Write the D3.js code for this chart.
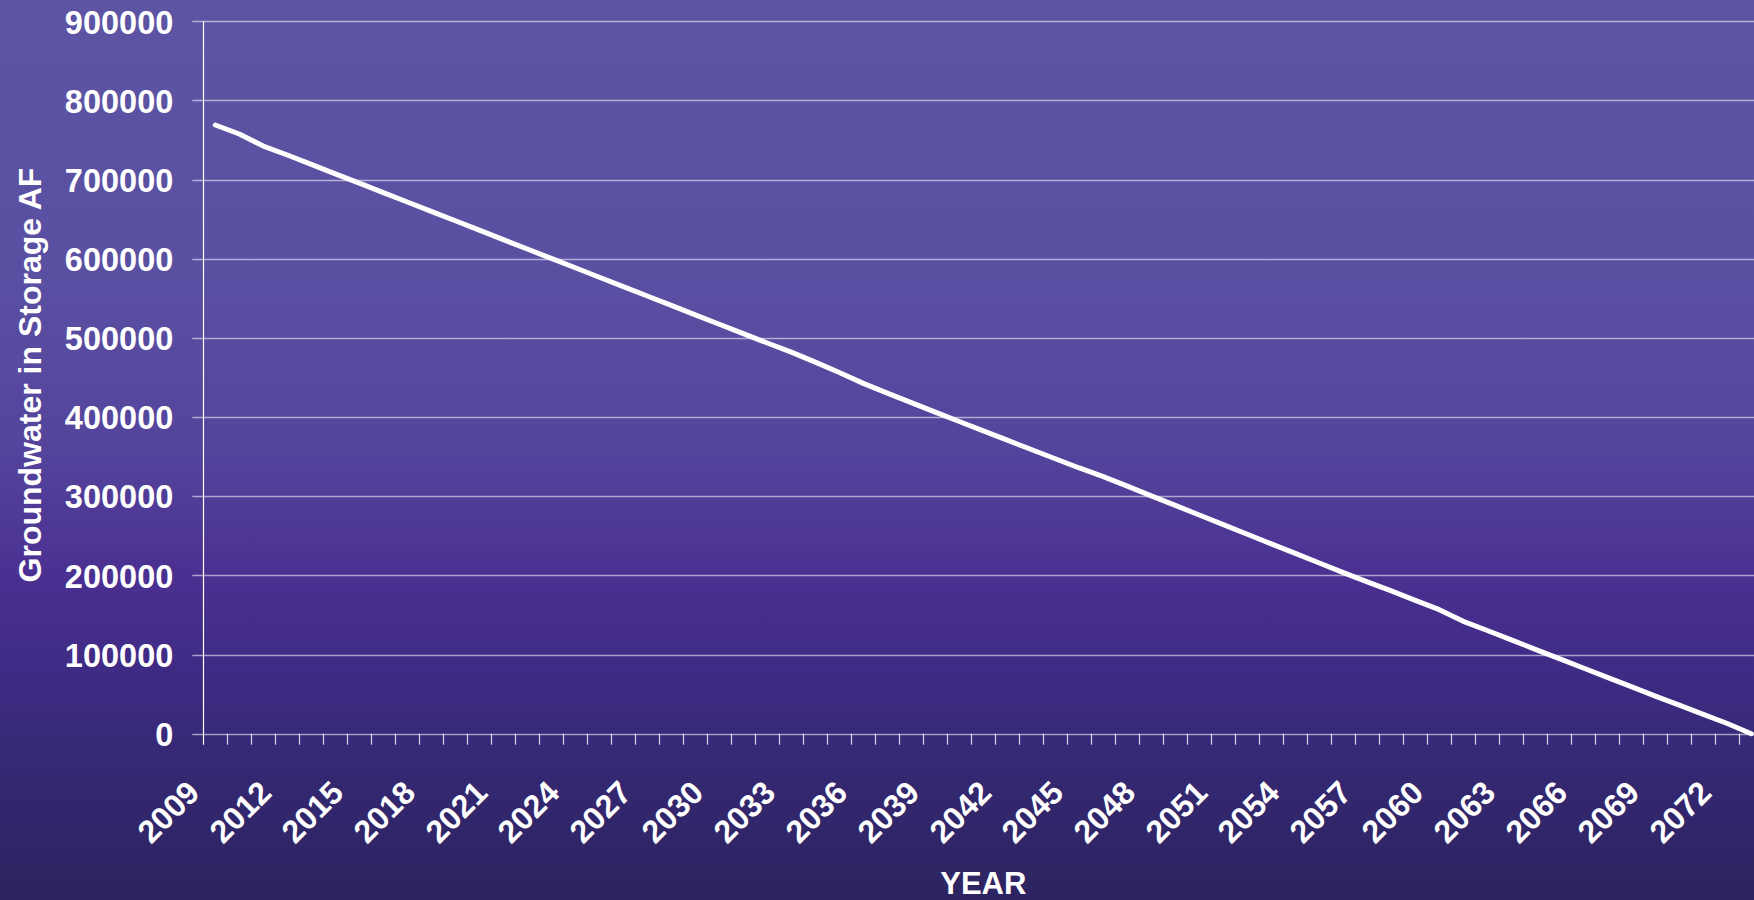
<!DOCTYPE html>
<html>
<head>
<meta charset="utf-8">
<script src="https://cdn.jsdelivr.net/npm/d3@7"></script>
<style>
	html, body { margin: 0; padding: 0; background: #2c2460; }
	svg { display: block; }
	text { font-family: "Liberation Sans", Arial, sans-serif; font-weight: bold; fill: #ffffff; }
</style>
</head>
<body>
<svg id="chart" width="1754" height="900"></svg>
<script>
	// groundwater left in storage, acre-feet, one value per year
	var years = d3.range(2009, 2074);
	var storage = [
		769000, 757600, 742400, 731100, 719200, 707300, 695500, 683600, 671700, 659800,
		648000, 636100, 624200, 612300, 600500, 588600, 576700, 564800, 553000, 541100,
		529200, 517300, 505500, 493600, 482000, 469500, 456300, 442600, 430300, 418300,
		406200, 394400, 382500, 370800, 359000, 347400, 335700, 324800, 312700, 300500,
		288400, 276300, 264200, 252000, 239900, 227800, 215600, 203500, 191800, 180400,
		168500, 156700, 142000, 130400, 118500, 106600, 94900, 83000, 71100, 59400,
		47500, 36000, 24500, 12900, 0
	];
	var yTicks = [0, 100000, 200000, 300000, 400000, 500000, 600000, 700000, 800000, 900000];
	var yLabel = "Groundwater in Storage AF";
	var xLabel = "YEAR";

	var svg = d3.select("#chart");
	var width = 1754, height = 900;
	var plot = { left: 203.3, right: 1763.3, top: 21.3, bottom: 733.7 };

	// background
	var defs = svg.append("defs");
	var grad = defs.append("linearGradient")
		.attr("id", "bg")
		.attr("x1", 0).attr("y1", 0)
		.attr("x2", 0).attr("y2", 1);
	[
		[0, "#5d54a4"], [0.3, "#5a50a2"], [0.5, "#54449c"], [0.64, "#4a3091"],
		[0.75, "#3e2b84"], [0.88, "#33276f"], [1, "#2c2460"]
	].forEach(function(s) {
		grad.append("stop").attr("offset", s[0]).attr("stop-color", s[1]);
	});
	svg.append("rect")
		.attr("width", width).attr("height", height)
		.attr("fill", "url(#bg)");

	var x = d3.scaleBand()
		.domain(years)
		.range([plot.left, plot.right])
		.padding(0);
	var y = d3.scaleLinear()
		.domain([0, 900000])
		.range([plot.bottom, plot.top]);

	// gridlines
	svg.append("g")
		.selectAll("line")
		.data(yTicks)
		.join("line")
		.attr("x1", plot.left - 11)
		.attr("x2", plot.right)
		.attr("y1", function(d) { return Math.round(y(d)) + 0.5; })
		.attr("y2", function(d) { return Math.round(y(d)) + 0.5; })
		.attr("stroke", "rgba(255,255,255,0.55)")
		.attr("stroke-width", 1.3);

	// y axis
	var yAxis = svg.append("g")
		.attr("transform", "translate(" + plot.left + ",0)")
		.call(d3.axisLeft(y).tickValues(yTicks).tickFormat(d3.format("d")).tickSize(0).tickPadding(30));
	yAxis.select(".domain").remove();
	yAxis.selectAll("text")
		.attr("font-size", 32.5)
		.attr("fill", "#ffffff")
		.attr("font-family", "Liberation Sans, Arial, sans-serif")
		.attr("font-weight", "bold")
		.attr("dy", "0.36em");
	svg.append("line")
		.attr("x1", Math.round(plot.left) + 0.5).attr("x2", Math.round(plot.left) + 0.5)
		.attr("y1", plot.top).attr("y2", plot.bottom + 11)
		.attr("stroke", "#ffffff")
		.attr("stroke-width", 1.2);

	// x axis: tick marks between categories, a label every third year
	var bounds = years.map(function(d) { return x(d); }).concat([plot.right]);
	svg.append("g")
		.selectAll("line")
		.data(bounds.slice(1))
		.join("line")
		.attr("x1", function(d) { return Math.round(d) + 0.5; })
		.attr("x2", function(d) { return Math.round(d) + 0.5; })
		.attr("y1", plot.bottom)
		.attr("y2", plot.bottom + 11)
		.attr("stroke", "rgba(255,255,255,0.8)")
		.attr("stroke-width", 1.2);

	var labelYears = years.filter(function(d, i) { return i % 3 == 0; });
	svg.append("g")
		.selectAll("text")
		.data(labelYears)
		.join("text")
		.attr("transform", function(d) {
			return "translate(" + (x(d) + x.bandwidth() / 2 - 14) + "," + (plot.bottom + 61) + ") rotate(-45)";
		})
		.attr("text-anchor", "end")
		.attr("font-size", 32)
		.text(function(d) { return d; });

	// axis titles
	svg.append("text")
		.attr("transform", "translate(41,375) rotate(-90)")
		.attr("text-anchor", "middle")
		.attr("font-size", 32)
		.text(yLabel);
	svg.append("text")
		.attr("x", (plot.left + plot.right) / 2)
		.attr("y", 894)
		.attr("text-anchor", "middle")
		.attr("font-size", 31)
		.text(xLabel);

	// the storage line
	var line = d3.line()
		.x(function(d, i) { return x(years[i]) + x.bandwidth() / 2; })
		.y(function(d) { return y(d); });
	svg.append("path")
		.datum(storage)
		.attr("d", line)
		.attr("fill", "none")
		.attr("stroke", "#ffffff")
		.attr("stroke-width", 5)
		.attr("stroke-linecap", "round")
		.attr("stroke-linejoin", "round");
</script>
</body>
</html>
